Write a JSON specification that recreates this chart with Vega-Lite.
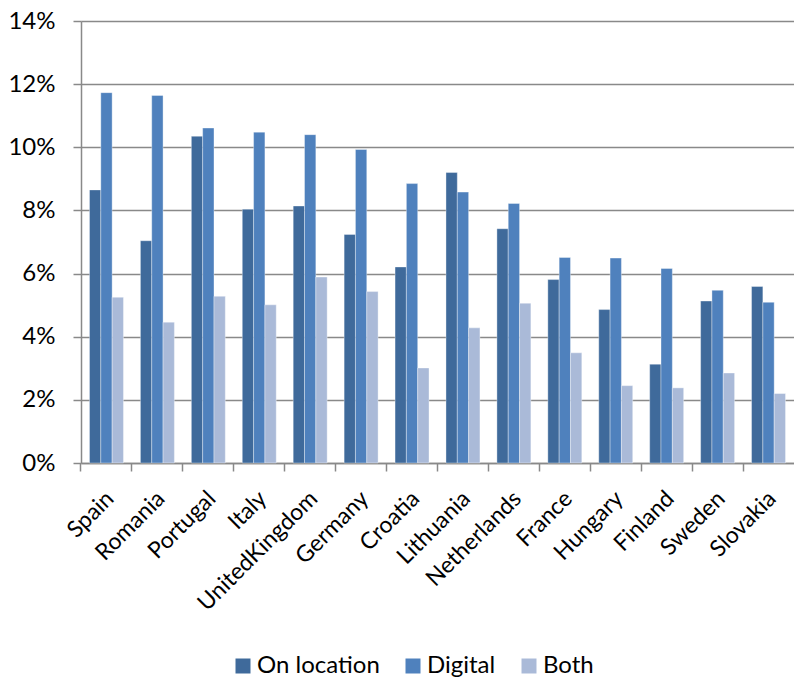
{
  "$schema": "https://vega.github.io/schema/vega-lite/v6.json",
  "width": 713,
  "height": 442,
  "autosize": {"type": "none"},
  "padding": {"left": 81, "top": 21, "right": 0, "bottom": 215},
  "background": "white",
  "config": {
    "font": "Lato",
    "view": {"stroke": null}
  },
  "data": {
    "values": [
      {"country": "Spain", "type": "On location", "share": 0.0865},
      {"country": "Spain", "type": "Digital", "share": 0.1173},
      {"country": "Spain", "type": "Both", "share": 0.0525},
      {"country": "Romania", "type": "On location", "share": 0.0704},
      {"country": "Romania", "type": "Digital", "share": 0.1164},
      {"country": "Romania", "type": "Both", "share": 0.0446},
      {"country": "Portugal", "type": "On location", "share": 0.1035},
      {"country": "Portugal", "type": "Digital", "share": 0.1061},
      {"country": "Portugal", "type": "Both", "share": 0.0528},
      {"country": "Italy", "type": "On location", "share": 0.0804},
      {"country": "Italy", "type": "Digital", "share": 0.1048},
      {"country": "Italy", "type": "Both", "share": 0.0501},
      {"country": "UnitedKingdom", "type": "On location", "share": 0.0814},
      {"country": "UnitedKingdom", "type": "Digital", "share": 0.104},
      {"country": "UnitedKingdom", "type": "Both", "share": 0.0589},
      {"country": "Germany", "type": "On location", "share": 0.0724},
      {"country": "Germany", "type": "Digital", "share": 0.0993},
      {"country": "Germany", "type": "Both", "share": 0.0543},
      {"country": "Croatia", "type": "On location", "share": 0.0621},
      {"country": "Croatia", "type": "Digital", "share": 0.0885},
      {"country": "Croatia", "type": "Both", "share": 0.0301},
      {"country": "Lithuania", "type": "On location", "share": 0.092},
      {"country": "Lithuania", "type": "Digital", "share": 0.0858},
      {"country": "Lithuania", "type": "Both", "share": 0.0428},
      {"country": "Netherlands", "type": "On location", "share": 0.0742},
      {"country": "Netherlands", "type": "Digital", "share": 0.0822},
      {"country": "Netherlands", "type": "Both", "share": 0.0506},
      {"country": "France", "type": "On location", "share": 0.0581},
      {"country": "France", "type": "Digital", "share": 0.0651},
      {"country": "France", "type": "Both", "share": 0.0349},
      {"country": "Hungary", "type": "On location", "share": 0.0486},
      {"country": "Hungary", "type": "Digital", "share": 0.0649},
      {"country": "Hungary", "type": "Both", "share": 0.0245},
      {"country": "Finland", "type": "On location", "share": 0.0313},
      {"country": "Finland", "type": "Digital", "share": 0.0616},
      {"country": "Finland", "type": "Both", "share": 0.0238},
      {"country": "Sweden", "type": "On location", "share": 0.0513},
      {"country": "Sweden", "type": "Digital", "share": 0.0547},
      {"country": "Sweden", "type": "Both", "share": 0.0285},
      {"country": "Slovakia", "type": "On location", "share": 0.0559},
      {"country": "Slovakia", "type": "Digital", "share": 0.0509},
      {"country": "Slovakia", "type": "Both", "share": 0.022}
    ]
  },
  "mark": {"type": "bar", "stroke": "white", "strokeOpacity": 0.45, "strokeWidth": 0.8},
  "encoding": {
    "x": {
      "field": "country",
      "type": "nominal",
      "sort": null,
      "title": null,
      "scale": {"paddingInner": 0.333, "paddingOuter": 0.1667},
      "axis": {
        "bandPosition": -0.25,
        "labelOffset": -4,
        "labelAngle": -45,
        "labelFontSize": 23,
        "labelColor": "#000000",
        "labelPadding": 16,
        "ticks": true,
        "tickSize": 8,
        "tickColor": "#898989",
        "tickWidth": 1.5,
        "domainColor": "#898989",
        "domainWidth": 1.5,
        "grid": false
      }
    },
    "xOffset": {
      "field": "type",
      "type": "nominal",
      "sort": ["On location", "Digital", "Both"],
      "scale": {"paddingInner": 0, "paddingOuter": 0}
    },
    "y": {
      "field": "share",
      "type": "quantitative",
      "title": null,
      "scale": {"domain": [0, 0.14], "nice": false},
      "axis": {
        "values": [0, 0.02, 0.04, 0.06, 0.08, 0.1, 0.12, 0.14],
        "format": ".0%",
        "labelFontSize": 24,
        "labelColor": "#000000",
        "labelPadding": 18,
        "tickSize": 8,
        "tickColor": "#898989",
        "tickWidth": 1.5,
        "domainColor": "#898989",
        "domainWidth": 1.5,
        "grid": true,
        "gridColor": "#898989",
        "gridWidth": 1.5
      }
    },
    "color": {
      "field": "type",
      "type": "nominal",
      "sort": ["On location", "Digital", "Both"],
      "scale": {
        "domain": ["On location", "Digital", "Both"],
        "range": ["#3F6A9B", "#4F81BD", "#AABAD8"]
      },
      "legend": {
        "title": null,
        "orient": "none",
        "direction": "horizontal",
        "legendX": 150,
        "legendY": 633,
        "padding": 0,
        "symbolType": "square",
        "symbolSize": 225,
        "symbolStrokeWidth": 0,
        "labelFontSize": 24,
        "labelColor": "#000000",
        "labelOffset": 2,
        "columnPadding": 21
      }
    }
  }
}
